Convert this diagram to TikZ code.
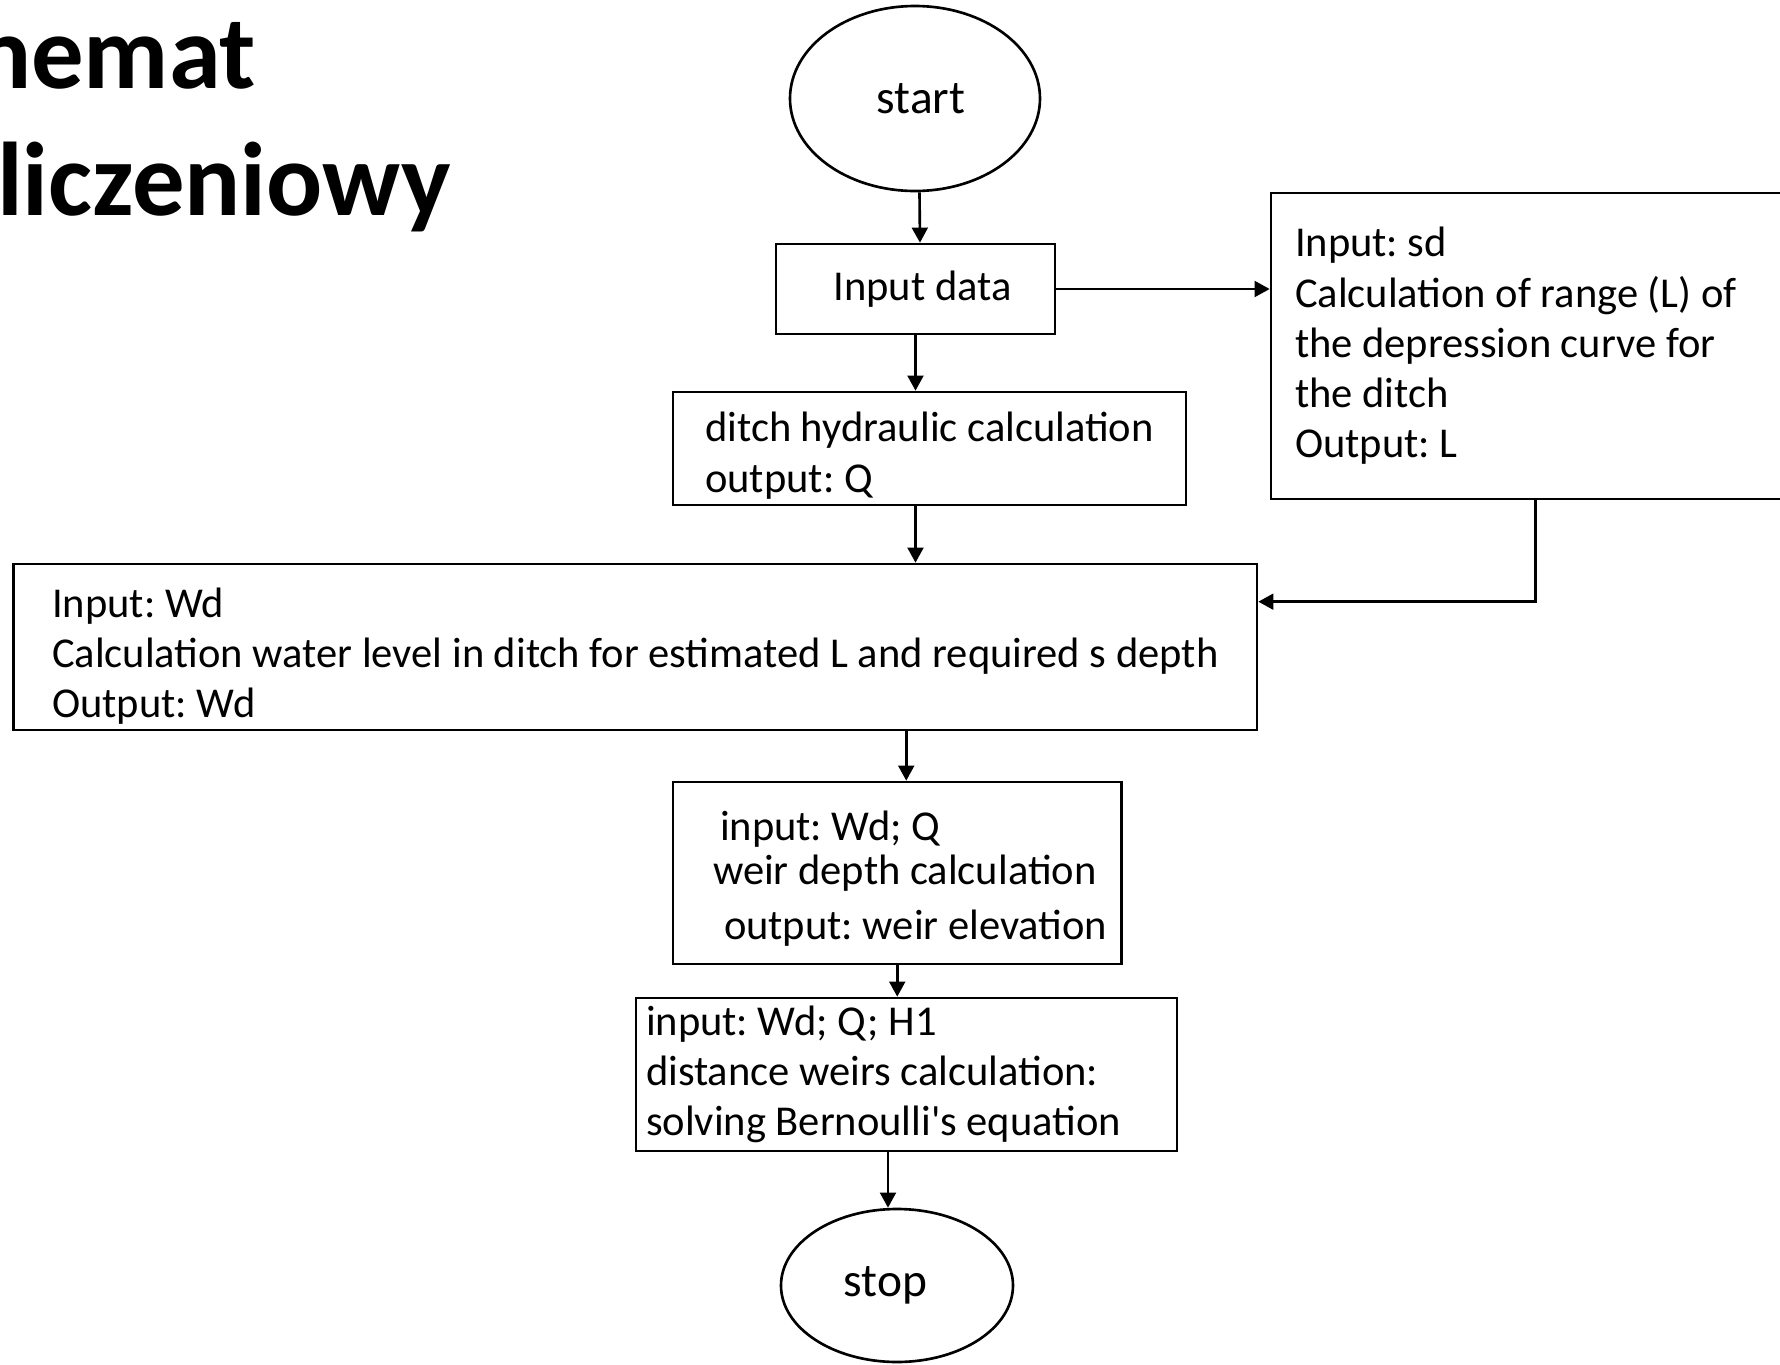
\documentclass[tikz,border=0pt]{standalone}
\usepackage{fontspec}
\setmainfont{Carlito}
\usetikzlibrary{arrows.meta,shapes.geometric}

\tikzset{
  box/.style={draw, rectangle, align=flush left, inner sep=0pt,
    font=\fontsize{12.1}{14.3}\selectfont\frenchspacing},
  term/.style={draw, ellipse, inner sep=0pt,
    font=\fontsize{13.5}{16}\selectfont},
  heading/.style={anchor=base west, font=\fontsize{29.8}{32}\bfseries\selectfont},
}

\begin{document}
\begin{tikzpicture}[>={Triangle[length=4.3pt,width=4.5pt]}, line width=0.75pt]
    \useasboundingbox (0,0) rectangle (17.80,-13.65);
    \node[heading] (head1) at (-0.38,-0.88) {hemat};
    \node[heading] (head2) at (-0.16,-2.15) {liczeniowy};
    \node[term, minimum width=2.50cm, minimum height=1.85cm] (start) at (9.15,-0.985) {\hspace{0.12cm}start};
    \node[box, minimum width=2.79cm, minimum height=0.90cm] (input) at (9.155,-2.89) {\hspace{0.14cm}Input data};
    \node[box, minimum width=5.13cm, minimum height=1.13cm] (ditch) at (9.295,-4.485)
      {\rule{0pt}{12.5pt}ditch hydraulic calculation\\output: Q};
    \node[box, minimum width=5.19cm, minimum height=3.06cm, text width=4.71cm, inner xsep=0.24cm] (range) at (15.305,-3.46)
      {Input: sd\\Calculation of range (L) of\\the depression curve for\\the ditch\\Output: L};
    \node[box, minimum width=12.434cm, minimum height=1.66cm] (wd) at (6.353,-6.47)
      {\rule{0pt}{13.6pt}Input: Wd\\Calculation water level in ditch for estimated L and required s depth\\Output: Wd};
    \node[box, minimum width=4.485cm, minimum height=1.82cm, text width=3.685cm, inner xsep=0.40cm] (weir) at (8.9725,-8.73)
      {\rule{0pt}{11.7pt}\hspace*{0.07cm}input: Wd; Q\\[-0.06cm]\mbox{weir depth calculation}\\[0.05cm]\hspace*{0.11cm}\mbox{output: weir elevation}};
    \node[box, minimum width=5.41cm, minimum height=1.53cm, text width=5.21cm, inner xsep=0.10cm] (dist) at (9.065,-10.745)
      {input: Wd; Q; H1\\distance weirs calculation:\\solving Bernoulli\textquotesingle s equation};
    \node[term, minimum width=2.32cm, minimum height=1.53cm] (stop) at (8.97,-12.855) {\hspace{-0.23cm}stop};
    \draw[->] ([xshift=0.045cm]start.south) -- ([xshift=0.045cm]input.north);
    \draw[->] (input.east) -- (input.east -| range.west);
    \draw[->] (input.south) -- (input.south |- ditch.north);
    \draw[->] (ditch.south -| input) -- (wd.north -| input);
    \draw[->] ([xshift=0.05cm]range.south) |- ([yshift=-0.39cm]wd.north east);
    \draw[->] ([xshift=0.09cm]wd.south -| weir) -- ([xshift=0.09cm]weir.north);
    \draw[->] (weir) -- (weir |- dist.north);
    \draw[->] ([xshift=-0.09cm]stop |- dist.south) -- ([xshift=-0.09cm]stop.north);
\end{tikzpicture}
\end{document}
